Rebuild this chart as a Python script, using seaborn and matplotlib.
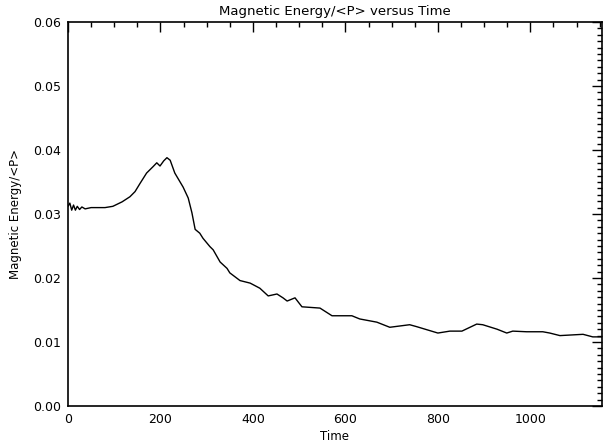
import matplotlib
matplotlib.use("Agg")
import matplotlib.pyplot as plt
import seaborn as sns
import pandas as pd
from matplotlib.ticker import MultipleLocator, FormatStrFormatter

time = [0, 4, 8, 12, 16, 20, 25, 30, 37, 50, 80, 97, 117, 134, 145, 156, 170, 184,
        192, 199, 207, 214, 221, 231, 249, 260, 268, 275, 285, 292, 307, 314, 329,
        344, 350, 372, 394, 415, 433, 452, 465, 474, 491, 506, 545, 571, 614, 631,
        668, 696, 739, 754, 800, 826, 852, 884, 897, 928, 949, 962, 992, 1027, 1042,
        1064, 1114, 1135, 1155]
energy = [0.0312, 0.0317, 0.0306, 0.0314, 0.0306, 0.0312, 0.0307, 0.0311, 0.0308,
          0.0310, 0.0310, 0.0312, 0.0319, 0.0327, 0.0335, 0.0348, 0.0364, 0.0374,
          0.0380, 0.0375, 0.0383, 0.0388, 0.0384, 0.0364, 0.0342, 0.0325, 0.0302,
          0.0276, 0.0270, 0.0262, 0.0249, 0.0244, 0.0225, 0.0215, 0.0208, 0.0196,
          0.0192, 0.0184, 0.0172, 0.0175, 0.0169, 0.0164, 0.0169, 0.0155, 0.0153,
          0.0141, 0.0141, 0.0136, 0.0131, 0.0123, 0.0127, 0.0124, 0.0114, 0.0117,
          0.0117, 0.0128, 0.0127, 0.0120, 0.0114, 0.0117, 0.0116, 0.0116, 0.0114,
          0.0110, 0.0112, 0.0108, 0.0108]

df = pd.DataFrame({"Time": time, "Energy": energy})

sns.set_style("white")
plt.rcParams['font.family'] = ['DejaVu Sans']
plt.rcParams['text.color'] = 'black'
plt.rcParams['axes.labelcolor'] = 'black'
plt.rcParams['xtick.color'] = 'black'
plt.rcParams['ytick.color'] = 'black'

fig = plt.figure(figsize=(6.05, 4.46), dpi=100)
ax = fig.add_axes([68/605, 40/446, (602-68)/605, (406-22)/446])
sns.lineplot(data=df, x="Time", y="Energy", ax=ax, color="black", linewidth=1.0)

ax.set_xlim(0, 1155)
ax.set_ylim(0, 0.06)
ax.xaxis.set_major_locator(MultipleLocator(200))
ax.xaxis.set_minor_locator(MultipleLocator(50))
ax.yaxis.set_major_locator(MultipleLocator(0.01))
ax.yaxis.set_minor_locator(MultipleLocator(0.001))
ax.yaxis.set_major_formatter(FormatStrFormatter('%.2f'))
ax.tick_params(which='both', direction='in', top=True, right=True, color='black',
               labelcolor='black', width=1.0, labelsize=9, pad=5)
ax.tick_params(which='major', length=7)
ax.tick_params(which='minor', length=3.5)
for s in ax.spines.values():
    s.set_color('black')
    s.set_linewidth(1.2)

ax.set_title("Magnetic Energy/<P> versus Time", fontsize=9.5, pad=5, color='black')
ax.set_xlabel("Time", fontsize=8.5, labelpad=3, color='black')
ax.set_ylabel("Magnetic Energy/<P>", fontsize=8.5, labelpad=8, color='black')

fig.savefig("out.png", dpi=100)
